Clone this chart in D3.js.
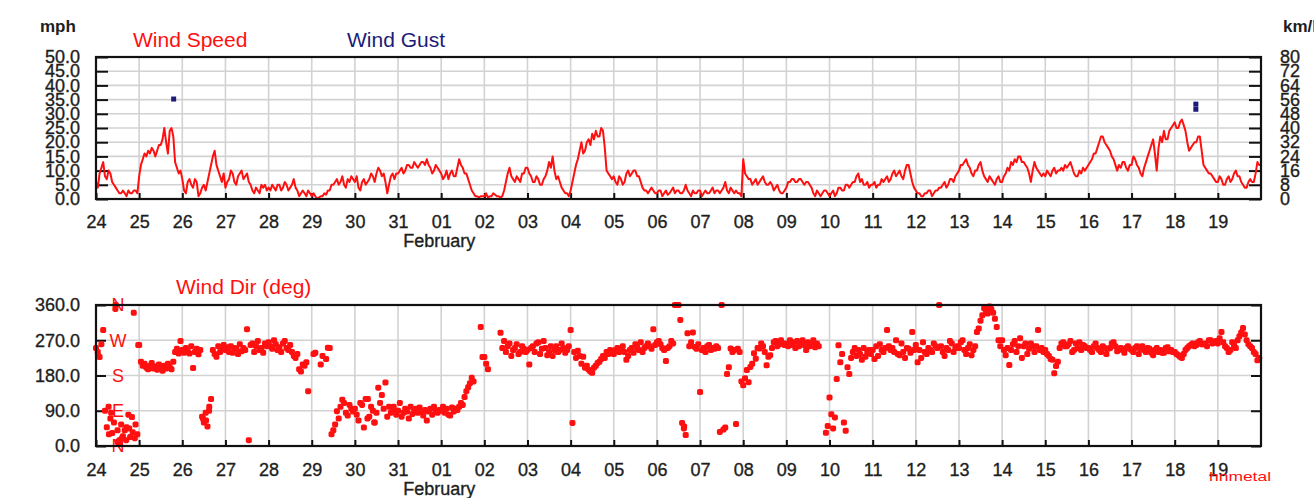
<!DOCTYPE html>
<html>
<head>
<meta charset="utf-8">
<script src="https://cdn.jsdelivr.net/npm/d3@7"></script>
<style>
  html, body { margin: 0; padding: 0; background: #fff; }
  svg { display: block; font-family: "Liberation Sans", Arial, sans-serif; }
</style>
</head>
<body>
<svg id="chart" width="1314" height="498"></svg>
<script>
// Day labels along the time axis (24 Jan .. 19 Feb)
const dayLabels = ["24","25","26","27","28","29","30","31","01","02","03","04","05","06",
                   "07","08","09","10","11","12","13","14","15","16","17","18","19"];
const mphTicks = [0, 5, 10, 15, 20, 25, 30, 35, 40, 45, 50];
const kmhTicks = [0, 8, 16, 24, 32, 40, 48, 56, 64, 72, 80];
const dirTicks = [0, 90, 180, 270, 360];
const compassLabels = [["N", 360], ["W", 270], ["S", 180], ["E", 90], ["N", 0]];

// Hourly wind speed (mph), one row per day starting 24 Jan
const windSpeed = [
  [6, 4, 9, 11, 13, 8, 7, 10, 9, 6, 5, 4, 3, 2, 2, 3, 2, 1, 3, 2, 2, 3, 3, 2],
  [8, 12, 14, 16, 15, 17, 16, 18, 17, 15, 17, 19, 19, 21, 25, 20, 16, 24, 25, 22, 13, 11, 9, 10],
  [7, 3, 2, 6, 7, 5, 4, 7, 6, 1, 2, 4, 5, 3, 6, 9, 12, 15, 17, 12, 10, 8, 6, 9],
  [4, 6, 7, 10, 9, 6, 5, 8, 9, 10, 7, 8, 9, 6, 5, 3, 2, 4, 3, 2, 5, 4, 5, 3],
  [4, 3, 5, 4, 3, 5, 5, 3, 4, 6, 5, 3, 4, 5, 7, 4, 3, 1, 2, 3, 2, 1, 3, 2],
  [1, 2, 1, 0, 0.5, 1, 1, 2, 1.5, 3, 3, 5, 5, 6, 7, 5, 6, 8, 5, 4, 7, 6, 8, 7],
  [6, 8, 4, 3, 6, 7, 5, 6, 7, 9, 8, 6, 9, 11, 10, 8, 9, 6, 2, 5, 8, 9, 7, 9],
  [9, 10, 11, 9, 10, 12, 12, 11, 11, 13, 12, 11, 12, 13, 13, 12, 14, 12, 11, 9, 10, 12, 11, 10],
  [9, 7, 8, 10, 7, 9, 10, 8, 8, 11, 14, 12, 11, 9, 9, 7, 5, 3, 2, 1, 1, 0.5, 1, 1],
  [1, 2, 0.5, 1, 1, 2, 1.5, 1, 1, 0.5, 1, 3, 6, 9, 11, 8, 7, 6, 8, 7, 6, 9, 9, 11],
  [11, 9, 8, 6, 6, 8, 7, 5, 5, 7, 8, 10, 13, 11, 15, 10, 7, 8, 6, 4, 3, 2, 2, 1],
  [3, 6, 9, 12, 14, 17, 20, 16, 17, 20, 21, 19, 23, 21, 24, 22, 22, 25, 24, 18, 10, 9, 8, 7],
  [8, 6, 5, 8, 7, 5, 6, 9, 10, 8, 9, 10, 10, 8, 8, 6, 4, 3, 3, 2, 3, 4, 3, 2],
  [2, 3, 3, 1, 2, 3, 1.5, 2, 3, 4, 2, 3, 3, 2, 2, 3, 5, 3, 2, 1, 3, 2, 2, 3],
  [3, 1, 2, 3, 2, 2, 3, 4, 2, 3, 3, 2, 3, 4, 6, 3, 2, 4, 3, 2, 3, 2, 2, 1],
  [14, 9, 8, 7, 7, 5, 6, 7, 5, 6, 7, 8, 6, 5, 5, 6, 5, 3, 4, 5, 3, 2, 2, 3],
  [4, 6, 6, 7, 7, 6, 6, 7, 7, 6, 5, 6, 6, 5, 4, 2, 1, 3, 2, 1, 2, 3, 3, 2],
  [1, 2, 3, 1, 2, 4, 4, 3, 3, 5, 5, 4, 5, 6, 6, 8, 9, 6, 7, 5, 5, 6, 4, 5],
  [5, 6, 4, 5, 5, 7, 6, 7, 8, 6, 7, 9, 10, 8, 9, 10, 8, 7, 10, 12, 12, 9, 6, 4],
  [3, 2, 2, 1, 1, 2, 2, 3, 3, 1, 2, 3, 3, 4, 4, 5, 6, 4, 5, 7, 7, 6, 8, 9],
  [10, 12, 12, 13, 14, 12, 11, 9, 8, 10, 10, 12, 13, 10, 8, 7, 6, 8, 7, 6, 5, 7, 8, 6],
  [6, 8, 9, 11, 10, 13, 12, 14, 13, 15, 15, 13, 13, 12, 11, 9, 6, 10, 13, 11, 10, 9, 8, 9],
  [8, 10, 9, 8, 10, 11, 9, 10, 10, 11, 10, 12, 11, 12, 13, 11, 9, 8, 8, 10, 9, 11, 10, 11],
  [12, 13, 14, 16, 16, 18, 20, 22, 22, 20, 19, 18, 17, 15, 14, 12, 10, 12, 11, 13, 13, 11, 10, 12],
  [12, 15, 14, 12, 11, 9, 8, 11, 13, 15, 17, 19, 21, 16, 10, 18, 22, 20, 24, 21, 21, 24, 25, 26],
  [27, 25, 25, 27, 28, 26, 24, 20, 17, 18, 19, 20, 20, 22, 22, 17, 12, 11, 10, 9, 9, 8, 7, 6],
  [6, 8, 7, 5, 5, 7, 8, 6, 7, 9, 10, 8, 8, 6, 5, 4, 4, 6, 7, 6, 6, 9, 13, 12]
];
const lastSpeed = 12; // reading at 20 Feb 00:00

// Gust readings: [day offset from 24 Jan, mph]
const windGust = [[1.8, 35.2], [25.49, 33.4], [25.49, 31.6]];

// Hourly wind direction (deg), one row per day starting 24 Jan (null = no reading)
const windDir = [
  [250, 240, 227, 260, 296, 90, 48, 100, 70, 33, 60, 360, 10, 15, 55, 25, 40, 48, 80, 23, 74, 340, 55, 30],
  [258, 215, 205, 210, 200, 196, 205, 212, 198, 203, 195, 208, 200, 192, 205, 198, 210, 202, 196, 215, 240, 248, 236, 268],
  [245, 238, 250, 242, 236, 255, 199, 240, 248, 234, 245, 75, 60, 85, 50, 100, 120, 245, 235, 228, 255, 240, 250, 258],
  [245, 252, 240, 255, 238, 250, 248, 235, 260, 242, 250, 245, 298, 15, 258, 262, 240, 255, 268, 245, 250, 238, 262, 255],
  [265, 255, 248, 270, 260, 245, 252, 240, 262, 268, 250, 245, 258, 240, 230, 225, 235, 196, 190, 208, 205, 214, 140, null],
  [null, 235, 238, null, null, 208, 230, null, 222, 251, 250, 30, 40, 55, 89, 70, 100, 118, 110, 85, 78, 105, 95, 88],
  [95, 80, 65, 110, 105, 47, 120, 70, 75, 100, 90, 60, 85, 149, 110, 130, 95, 162, 75, 100, 85, 95, 88, 80],
  [90, 110, 75, 85, 95, 88, 70, 100, 82, 90, 95, 85, 98, 88, 78, 92, 65, 88, 95, 80, 100, 88, 85, 92],
  [90, 100, 85, 95, 80, 78, 98, 88, 95, 92, 100, 110, 105, 125, 140, 150, 160, 174, 165, null, null, null, 304, 227],
  [227, 210, 196, null, null, null, null, null, null, 289, 250, 268, 240, 255, 262, 230, 245, 250, 260, 235, 240, 255, 248, 240],
  [245, 208, 250, 255, 240, 262, 265, 235, 248, 268, 250, 232, 240, 255, 230, 245, 255, 240, 245, 262, 250, 238, 245, 255],
  [296, 59, 240, 225, 243, 230, 210, 228, 200, 205, 195, 190, 187, 200, 205, 212, 215, 222, 230, 225, 240, 235, 245, 238],
  [235, 245, 250, 240, 245, 255, 240, 220, 230, 245, 250, 238, 260, 252, 245, 265, 240, 250, 255, 262, 255, 248, 298, 258],
  [265, 268, 260, 250, 245, 217, 250, 255, 268, 262, 360, 360, 360, 322, 59, 45, 28, 288, 255, 265, 290, 253, 248, 260],
  [138, 245, 250, 240, 255, 258, 245, 250, 248, 255, 250, 36, 360, 42, 47, 184, 201, 249, 240, 245, 56, 248, 240, 165],
  [155, 173, 194, 163, 202, 210, 237, 223, 250, 249, 262, 255, 240, 206, 228, 232, 250, 265, 268, 255, 260, 270, 262, 258],
  [262, 255, 270, 258, 265, 250, 268, 255, 262, 270, 258, 245, 265, 255, 260, 270, 252, 262, 255, null, null, null, 34, 51],
  [124, 81, 45, 73, 171, 257, 214, 235, 60, 39, 201, 184, 225, 240, 250, 230, 245, 235, 220, 250, 228, 240, 245, 235],
  [245, 222, 255, 230, 260, 245, 240, 250, 296, 255, 245, 250, 240, 270, 235, 232, 262, 240, 225, 250, 248, 238, 291, 245],
  [258, 214, 245, 225, 265, 240, 235, 250, 245, 240, 262, 255, 250, 360, 255, 240, 230, 250, 245, 268, 262, 240, 250, 255],
  [250, 265, 270, 245, 235, 250, 260, 232, 245, 255, 291, 300, 320, 334, 352, 345, 338, 356, 350, 340, 325, 304, 270, 255],
  [270, 245, 232, 250, 207, 245, 260, 268, 240, 255, 275, 225, 255, 262, 235, 248, 262, 255, 240, 255, 296, 245, 250, 240],
  [245, 235, 230, 222, 220, 186, 204, 215, 250, 262, 265, 255, 255, 260, 268, 240, 245, 262, 250, 265, 245, 258, 255, 250],
  [250, 245, 240, 255, 262, 250, 245, 240, 255, 250, 235, 248, 250, 262, 265, 255, 242, 248, 250, 245, 238, 250, 255, 248],
  [245, 240, 250, 255, 235, 248, 255, 245, 240, 250, 248, 238, 232, 245, 250, 240, 245, 238, 238, 250, 252, 242, 245, 240],
  [240, 235, 232, 228, 225, 235, 245, 250, 255, 258, 262, 255, 258, 265, 268, 260, 260, 262, 255, 270, 270, 262, 265, 268],
  [262, 275, 291, 265, 255, 250, 240, 245, 265, 258, 250, 270, 280, 290, 301, 285, 270, 260, 255, 250, 240, 235, 219, 225]
];

// Extra direction readings logged between the hourly ones: [day offset, deg]
const windDirExtra = [
  [0.3, 30], [0.35, 85], [0.45, 350], [0.5, 40], [0.55, 5], [0.6, 20], [0.7, 15],
  [0.77, 45], [0.85, 35], [0.9, 20], [0.98, 258],
  [2.48, 70], [2.55, 65], [2.62, 90],
  [6.3, 120], [6.45, 60], [6.9, 100],
  [13.63, 50], [20.65, 348], [20.7, 355]
];

const RED = "#ff1010";
const NAVY = "#1c1c78";
const TEXT = "#1e1e1e";
const GRID = "#d2d2d2";

const svg = d3.select("#chart");

const x = d3.scaleLinear().domain([0, 27]).range([96, 1261]);
const ySpd = d3.scaleLinear().domain([0, 50]).range([199, 57]);
const yKmh = d3.scaleLinear().domain([0, 80]).range([199, 57]);
const yDir = d3.scaleLinear().domain([0, 360]).range([446, 305]);

// flatten per-day rows into [time, value] pairs
const flatten = rows => rows.flatMap((row, day) => row.map((v, h) => [day + h / row.length, v]));

function styleAxis(g, size) {
  g.select(".domain").remove();
  g.selectAll(".tick line").attr("stroke", "#111").attr("stroke-width", 2);
  g.selectAll(".tick text").attr("fill", TEXT).attr("stroke", TEXT).attr("stroke-width", 0.35)
    .style("font-size", size + "px");
}

function panel(id, y, gridValues, label) {
  const [y0, y1] = y.range();
  const g = svg.append("g");
  svg.append("clipPath").attr("id", id)
    .append("rect").attr("x", x(0)).attr("y", y1).attr("width", x(27) - x(0)).attr("height", y0 - y1);

  // grid
  g.append("g").selectAll("line").data(d3.range(1, 27)).join("line")
    .attr("x1", d => x(d)).attr("x2", d => x(d))
    .attr("y1", y1).attr("y2", y0)
    .attr("stroke", GRID).attr("stroke-width", 1.6);
  g.append("g").selectAll("line").data(gridValues).join("line")
    .attr("x1", x(0)).attr("x2", x(27))
    .attr("y1", d => y(d)).attr("y2", d => y(d))
    .attr("stroke", GRID).attr("stroke-width", 1.6);

  // day axis with ticks pointing into the plot
  const ax = g.append("g").attr("transform", `translate(0,${y0})`)
    .call(d3.axisBottom(x).tickValues(d3.range(27)).tickFormat(i => dayLabels[i])
      .tickSize(-6).tickPadding(label.pad));
  styleAxis(ax, 18);

  // month label under the 01 tick
  g.append("text").attr("x", x(8) - 2).attr("y", label.monthY)
    .attr("text-anchor", "middle").attr("fill", TEXT).attr("stroke", TEXT).attr("stroke-width", 0.35)
    .style("font-size", "18px").text("February");
  return g;
}

// ---------- Wind speed panel ----------
const speedPanel = panel("clipTop", ySpd, mphTicks.slice(1, -1), { pad: 16, monthY: 247 });

const left1 = speedPanel.append("g").attr("transform", `translate(${x(0)},0)`)
  .call(d3.axisLeft(ySpd).tickValues(mphTicks).tickFormat(d3.format(".1f"))
    .tickSize(-12).tickPadding(16));
styleAxis(left1, 18);

const right1 = speedPanel.append("g").attr("transform", `translate(${x(27)},0)`)
  .call(d3.axisRight(yKmh).tickValues(kmhTicks).tickSize(-12).tickPadding(19));
styleAxis(right1, 18);

const speedPts = flatten(windSpeed).concat([[27, lastSpeed]]);
const speedLine = d3.line().x(d => x(d[0])).y(d => ySpd(d[1]));
speedPanel.append("path").datum(speedPts)
  .attr("clip-path", "url(#clipTop)")
  .attr("d", speedLine)
  .attr("fill", "none").attr("stroke", RED).attr("stroke-width", 2)
  .attr("stroke-linejoin", "round");

speedPanel.append("g").selectAll("rect").data(windGust).join("rect")
  .attr("x", d => x(d[0]) - 2.5).attr("y", d => ySpd(d[1]) - 2.5)
  .attr("width", 5).attr("height", 5).attr("fill", NAVY);

speedPanel.append("rect").attr("x", x(0)).attr("y", ySpd(50))
  .attr("width", x(27) - x(0)).attr("height", ySpd(0) - ySpd(50))
  .attr("fill", "none").attr("stroke", "#111").attr("stroke-width", 2.2);

svg.append("text").attr("x", 40).attr("y", 32).attr("fill", TEXT)
  .style("font-size", "17px").style("font-weight", "bold").text("mph");
svg.append("text").attr("x", 1283).attr("y", 32).attr("fill", TEXT)
  .style("font-size", "17px").style("font-weight", "bold").text("km/h");
svg.append("text").attr("x", 133).attr("y", 47).attr("fill", RED)
  .style("font-size", "21px").text("Wind Speed");
svg.append("text").attr("x", 347).attr("y", 47).attr("fill", NAVY)
  .style("font-size", "21px").text("Wind Gust");

// ---------- Wind direction panel ----------
const dirPanel = panel("clipBot", yDir, [90, 180, 270], { pad: 17, monthY: 495 });

const left2 = dirPanel.append("g").attr("transform", `translate(${x(0)},0)`)
  .call(d3.axisLeft(yDir).tickValues(dirTicks).tickFormat(d3.format(".1f"))
    .tickSize(-10).tickPadding(16));
styleAxis(left2, 18);

const right2 = dirPanel.append("g").attr("transform", `translate(${x(27)},0)`)
  .call(d3.axisRight(yDir).tickValues(dirTicks).tickFormat("").tickSize(-10));
styleAxis(right2, 18);

dirPanel.append("g").selectAll("text").data(compassLabels).join("text")
  .attr("x", x(0) + 22).attr("y", d => yDir(d[1]))
  .attr("dy", "0.36em").attr("text-anchor", "middle")
  .attr("fill", RED).style("font-size", "18px")
  .text(d => d[0]);

const dirPoints = flatten(windDir).filter(d => d[1] != null).concat(windDirExtra);

dirPanel.append("g").selectAll("rect").data(dirPoints).join("rect")
  .attr("x", d => x(d[0]) - 3).attr("y", d => yDir(d[1]) - 3)
  .attr("width", 6).attr("height", 6).attr("rx", 1.8)
  .attr("fill", RED);

dirPanel.append("rect").attr("x", x(0)).attr("y", yDir(360))
  .attr("width", x(27) - x(0)).attr("height", yDir(0) - yDir(360))
  .attr("fill", "none").attr("stroke", "#111").attr("stroke-width", 2.2);

svg.append("text").attr("x", 176).attr("y", 294).attr("fill", RED)
  .style("font-size", "21px").text("Wind Dir (deg)");

svg.append("text").attr("x", 1209).attr("y", 481).attr("fill", RED)
  .attr("textLength", 62).attr("lengthAdjust", "spacingAndGlyphs")
  .style("font-size", "13px").text("hnmetal");
</script>
</body>
</html>
